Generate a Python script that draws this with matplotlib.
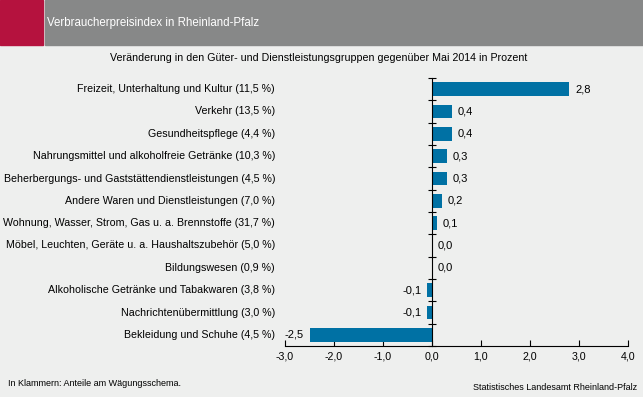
import matplotlib
matplotlib.use("Agg")
import matplotlib.pyplot as plt
from matplotlib.patches import Rectangle
import matplotlib.transforms as mtransforms
import numpy as np

categories = [
    "Freizeit, Unterhaltung und Kultur (11,5 %)",
    "Verkehr (13,5 %)",
    "Gesundheitspflege (4,4 %)",
    "Nahrungsmittel und alkoholfreie Getränke (10,3 %)",
    "Beherbergungs- und Gaststättendienstleistungen (4,5 %)",
    "Andere Waren und Dienstleistungen (7,0 %)",
    "Wohnung, Wasser, Strom, Gas u. a. Brennstoffe (31,7 %)",
    "Möbel, Leuchten, Geräte u. a. Haushaltszubehör (5,0 %)",
    "Bildungswesen (0,9 %)",
    "Alkoholische Getränke und Tabakwaren (3,8 %)",
    "Nachrichtenübermittlung (3,0 %)",
    "Bekleidung und Schuhe (4,5 %)",
]
values = [2.8, 0.4, 0.4, 0.3, 0.3, 0.2, 0.1, 0.0, 0.0, -0.1, -0.1, -2.5]
xticks = [-3, -2, -1, 0, 1, 2, 3, 4]

BG = "#eeefee"
BAR = "#0071a4"
FS = 7.7
plt.rcParams["font.family"] = ["Liberation Sans", "DejaVu Sans"]

fig = plt.figure(figsize=(6.43, 3.97), dpi=100, facecolor=BG)

# header band
fig.patches.append(Rectangle((0, 1 - 45 / 397), 43 / 643, 45 / 397,
                             transform=fig.transFigure, color="#b5123e", zorder=0))
fig.patches.append(Rectangle((45 / 643, 1 - 45 / 397), 598 / 643, 45 / 397,
                             transform=fig.transFigure, color="#878888", zorder=0))
fig.text(47 / 643, 1 - 23 / 397, "Verbraucherpreisindex in Rheinland-Pfalz",
         color="white", fontsize=8.3, va="center", ha="left")
fig.text(319 / 643, 1 - 58 / 397,
         "Veränderung in den Güter- und Dienstleistungsgruppen gegenüber Mai 2014 in Prozent",
         fontsize=FS, ha="center", va="center")
fig.text(8 / 643, 1 - 384 / 397, "In Klammern: Anteile am Wägungsschema.",
         fontsize=6.5, ha="left", va="center")
fig.text(637 / 643, 1 - 387 / 397, "Statistisches Landesamt Rheinland-Pfalz",
         fontsize=6.5, ha="right", va="center")

ax = fig.add_axes([285 / 643, 1 - 346 / 397, 343 / 643, 268 / 397])
ax.set_facecolor(BG)
n = len(categories)
y = np.arange(n)
ax.barh(y, values, height=0.6, color=BAR, zorder=2)
ax.set_ylim(n - 0.5, -0.5)
ax.set_xlim(-3, 4)

for sp in ["top", "right"]:
    ax.spines[sp].set_visible(False)
ax.spines["left"].set_position(("data", 0))
ax.spines["left"].set_zorder(3)
ax.set_yticks(np.arange(n + 1) - 0.5)
ax.set_yticklabels([])
ax.tick_params(axis="y", direction="inout", length=6, width=0.8)
ax.set_xticks(xticks)
ax.set_xticklabels([f"{t:.1f}".replace(".", ",") for t in xticks], fontsize=FS)
ax.tick_params(axis="x", direction="in", length=4, width=0.8, pad=4)

trans = mtransforms.blended_transform_factory(fig.transFigure, ax.transData)
for yi, cat, v in zip(y, categories, values):
    fig.text(275 / 643, yi, cat, transform=trans, ha="right", va="center", fontsize=FS)
    lab = f"{v:.1f}".replace(".", ",")
    if v >= 0:
        ax.text(v + 0.12, yi, lab, ha="left", va="center", fontsize=FS + 0.3)
    else:
        ax.text(v - 0.12, yi, lab, ha="right", va="center", fontsize=FS + 0.3)

fig.savefig("out.png", dpi=100, facecolor=BG)
